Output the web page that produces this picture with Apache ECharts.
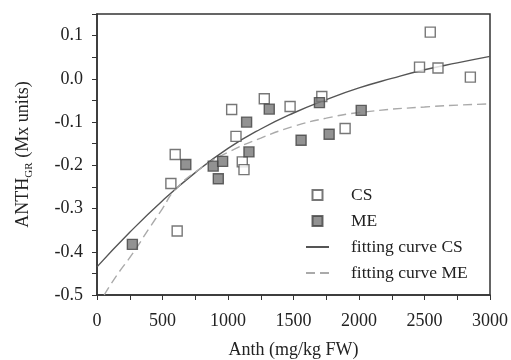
<!DOCTYPE html>
<html>
<head>
<meta charset="utf-8">
<script src="https://cdn.jsdelivr.net/npm/echarts@6/dist/echarts.min.js"></script>
<style>
  html, body { margin: 0; padding: 0; background: #fff; }
  #chart { width: 511px; height: 360px; }
</style>
</head>
<body>
<div id="chart"></div>
<script>
// scatter data
const csX = [2544, 2462, 2603, 2850, 1277, 1716, 1474, 1028, 1061, 1894, 597, 1109, 1122, 564, 612]
const csY = [0.108, 0.027, 0.025, 0.004, -0.046, -0.041, -0.064, -0.071, -0.133, -0.115, -0.175, -0.192, -0.210, -0.242, -0.352]
const meX = [270, 678, 887, 959, 926, 1142, 1160, 1315, 1558, 1698, 1772, 2017]
const meY = [-0.383, -0.198, -0.202, -0.191, -0.231, -0.100, -0.169, -0.070, -0.142, -0.055, -0.128, -0.073]

// fitting curves, points
const fitCsX = [0, 250, 500, 750, 1000, 1250, 1500, 1750, 2000, 2250, 2500, 2750, 3000]
const fitCsY = [-0.435, -0.355, -0.282, -0.217, -0.161, -0.116, -0.079, -0.048, -0.021, 0.001, 0.021, 0.037, 0.052]
const fitMeX = [55, 150, 270, 400, 500, 600, 800, 1000, 1250, 1500, 1750, 2000, 2500, 3000]
const fitMeY = [-0.5, -0.455, -0.405, -0.345, -0.300, -0.255, -0.205, -0.170, -0.137, -0.110, -0.091, -0.078, -0.065, -0.058]

const xTicks = [0, 500, 1000, 1500, 2000, 2500, 3000]
const yTicks = [-0.5, -0.4, -0.3, -0.2, -0.1, 0.0, 0.1]

const pairs = (xs, ys) => xs.map((x, i) => [x, ys[i]])
const font = 'Liberation Serif'
const axisColor = '#333'
const square = 'path://M0,0H10V10H0Z'

const chart = echarts.init(document.getElementById('chart'))
chart.setOption({
    animation: false,
    grid: {
        left: 97, right: 21, top: 14, bottom: 65,
        outerBoundsMode: 'none',
        show: true, borderColor: axisColor, borderWidth: 1.5
    },
    legend: {
        orient: 'vertical',
        left: 300, top: 180,
        itemWidth: 23, itemHeight: 10, itemGap: 6,
        textStyle: { fontFamily: font, fontSize: 17.5, color: '#222', lineHeight: 20, padding: [0, 0, 0, 17] },
        data: [
            { name: 'CS', icon: square },
            { name: 'ME', icon: square },
            { name: 'fitting curve CS', itemStyle: { opacity: 0 } },
            { name: 'fitting curve ME', itemStyle: { opacity: 0 } }
        ]
    },
    xAxis: {
        type: 'value',
        min: 0, max: 3000, interval: 250,
        name: 'Anth (mg/kg FW)',
        nameLocation: 'middle', nameGap: 46,
        nameTextStyle: { fontFamily: font, fontSize: 18, color: '#222' },
        axisLine: { onZero: false, lineStyle: { color: axisColor, width: 1.5 } },
        axisTick: { length: 5, lineStyle: { color: axisColor } },
        axisLabel: {
            fontFamily: font, fontSize: 18, color: '#222', margin: 17,
            formatter: v => xTicks.includes(v) ? String(v) : ''
        },
        splitLine: { show: false }
    },
    yAxis: {
        type: 'value',
        min: -0.5, max: 0.15, interval: 0.05,
        name: '{n|ANTH}{s|GR}{n| (Mx units)}',
        nameLocation: 'middle', nameGap: 62,
        nameTextStyle: {
            color: '#222',
            rich: {
                n: { fontFamily: font, fontSize: 18, lineHeight: 24, color: '#222' },
                s: { fontFamily: font, fontSize: 11, lineHeight: 14, verticalAlign: 'bottom', color: '#222' }
            }
        },
        axisLine: { show: true, onZero: false, lineStyle: { color: axisColor, width: 1.5 } },
        axisTick: { show: true, length: 5, lineStyle: { color: axisColor } },
        axisLabel: {
            fontFamily: font, fontSize: 18, color: '#222', margin: 14,
            formatter: v => {
                const hit = yTicks.find(t => Math.abs(t - v) < 1e-6)
                return hit === undefined ? '' : hit.toFixed(1)
            }
        },
        splitLine: { show: false }
    },
    series: [
        {
            name: 'fitting curve CS',
            type: 'line',
            data: pairs(fitCsX, fitCsY),
            smooth: true,
            symbol: 'none',
            lineStyle: { color: '#555', width: 1.4 },
            itemStyle: { color: '#555' },
            z: 1
        },
        {
            name: 'fitting curve ME',
            type: 'line',
            data: pairs(fitMeX, fitMeY),
            smooth: true,
            symbol: 'none',
            lineStyle: { color: '#aaa', width: 1.4, type: [9, 5] },
            itemStyle: { color: '#aaa' },
            z: 1
        },
        {
            name: 'CS',
            type: 'scatter',
            data: pairs(csX, csY),
            symbol: 'rect',
            symbolSize: 10,
            itemStyle: { color: '#fff', borderColor: '#555', borderWidth: 1.4 },
            z: 3
        },
        {
            name: 'ME',
            type: 'scatter',
            data: pairs(meX, meY),
            symbol: 'rect',
            symbolSize: 10,
            itemStyle: { color: '#777', borderColor: '#444', borderWidth: 1.4 },
            z: 3
        }
    ]
})
</script>
</body>
</html>
